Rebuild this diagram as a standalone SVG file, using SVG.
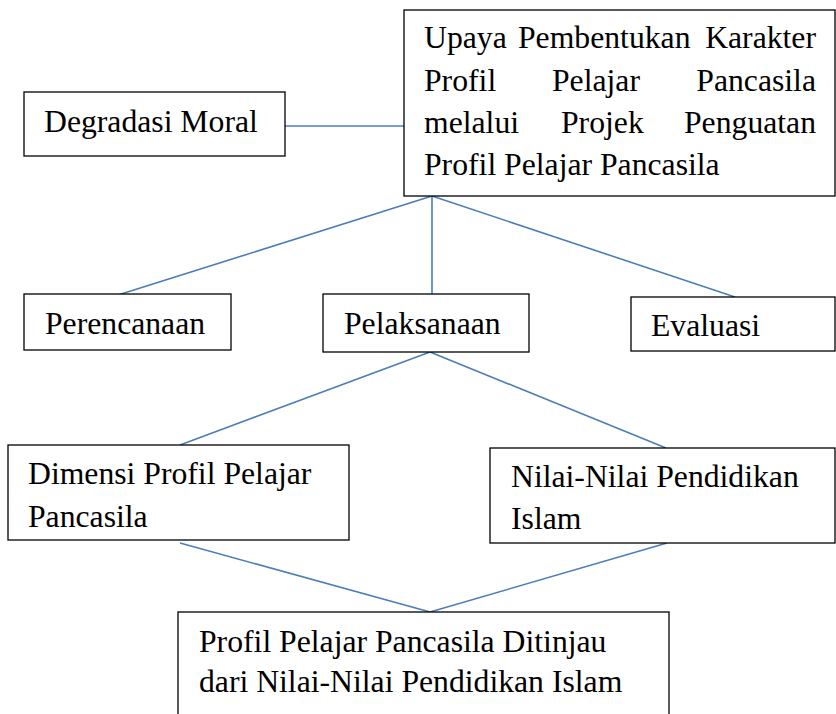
<svg xmlns="http://www.w3.org/2000/svg" width="836" height="714" viewBox="0 0 836 714" font-family="Liberation Serif, DejaVu Serif, serif">
<style>
.box{fill:#fff;stroke:#000;stroke-width:1.3}
.t{font-family:'Liberation Serif','DejaVu Serif',serif;font-size:31.7px;fill:#000}
.c{stroke:#4a7ebb;stroke-width:1.6;fill:none}
</style>
<rect width="836" height="714" fill="#fff"/>
<g id="connectors">
<line class="c" x1="285" y1="126" x2="404" y2="126"/>
<line class="c" x1="432" y1="196" x2="118" y2="295"/>
<line class="c" x1="432" y1="196" x2="432" y2="294"/>
<line class="c" x1="432" y1="196" x2="735" y2="297"/>
<line class="c" x1="430" y1="352" x2="180" y2="445"/>
<line class="c" x1="430" y1="352" x2="666" y2="448"/>
<line class="c" x1="180" y1="543" x2="430" y2="612"/>
<line class="c" x1="667" y1="543" x2="430" y2="612"/>
</g>
<g id="top">
<rect class="box" x="404" y="10" width="431" height="186"/>
<text class="t" x="424" y="48">Upaya</text>
<text class="t" x="518" y="48">Pembentukan</text>
<text class="t" x="816" y="48" text-anchor="end">Karakter</text>
<text class="t" x="424" y="91">Profil</text>
<text class="t" x="552" y="91">Pelajar</text>
<text class="t" x="816" y="91" text-anchor="end">Pancasila</text>
<text class="t" x="424" y="133">melalui</text>
<text class="t" x="561" y="133">Projek</text>
<text class="t" x="816" y="133" text-anchor="end">Penguatan</text>
<text class="t" x="424" y="175">Profil Pelajar Pancasila</text>
</g>
<g id="degradasi">
<rect class="box" x="24" y="92" width="261" height="64"/>
<text class="t" x="44" y="132">Degradasi Moral</text>
</g>
<g id="perencanaan">
<rect class="box" x="24" y="294" width="207" height="56"/>
<text class="t" x="45" y="334">Perencanaan</text>
</g>
<g id="pelaksanaan">
<rect class="box" x="323" y="294" width="206" height="58"/>
<text class="t" x="344" y="334">Pelaksanaan</text>
</g>
<g id="evaluasi">
<rect class="box" x="631" y="297" width="204" height="54"/>
<text class="t" x="651" y="336">Evaluasi</text>
</g>
<g id="dimensi">
<rect class="box" x="8" y="445" width="341" height="95"/>
<text class="t" x="28" y="484">Dimensi Profil Pelajar</text>
<text class="t" x="28" y="527">Pancasila</text>
</g>
<g id="nilai">
<rect class="box" x="490" y="448" width="345" height="95"/>
<text class="t" x="511" y="487">Nilai-Nilai Pendidikan</text>
<text class="t" x="511" y="529">Islam</text>
</g>
<g id="profil">
<rect class="box" x="178" y="612" width="491" height="110"/>
<text class="t" x="199" y="652">Profil Pelajar Pancasila Ditinjau</text>
<text class="t" x="199" y="692">dari Nilai-Nilai Pendidikan Islam</text>
</g>
</svg>
